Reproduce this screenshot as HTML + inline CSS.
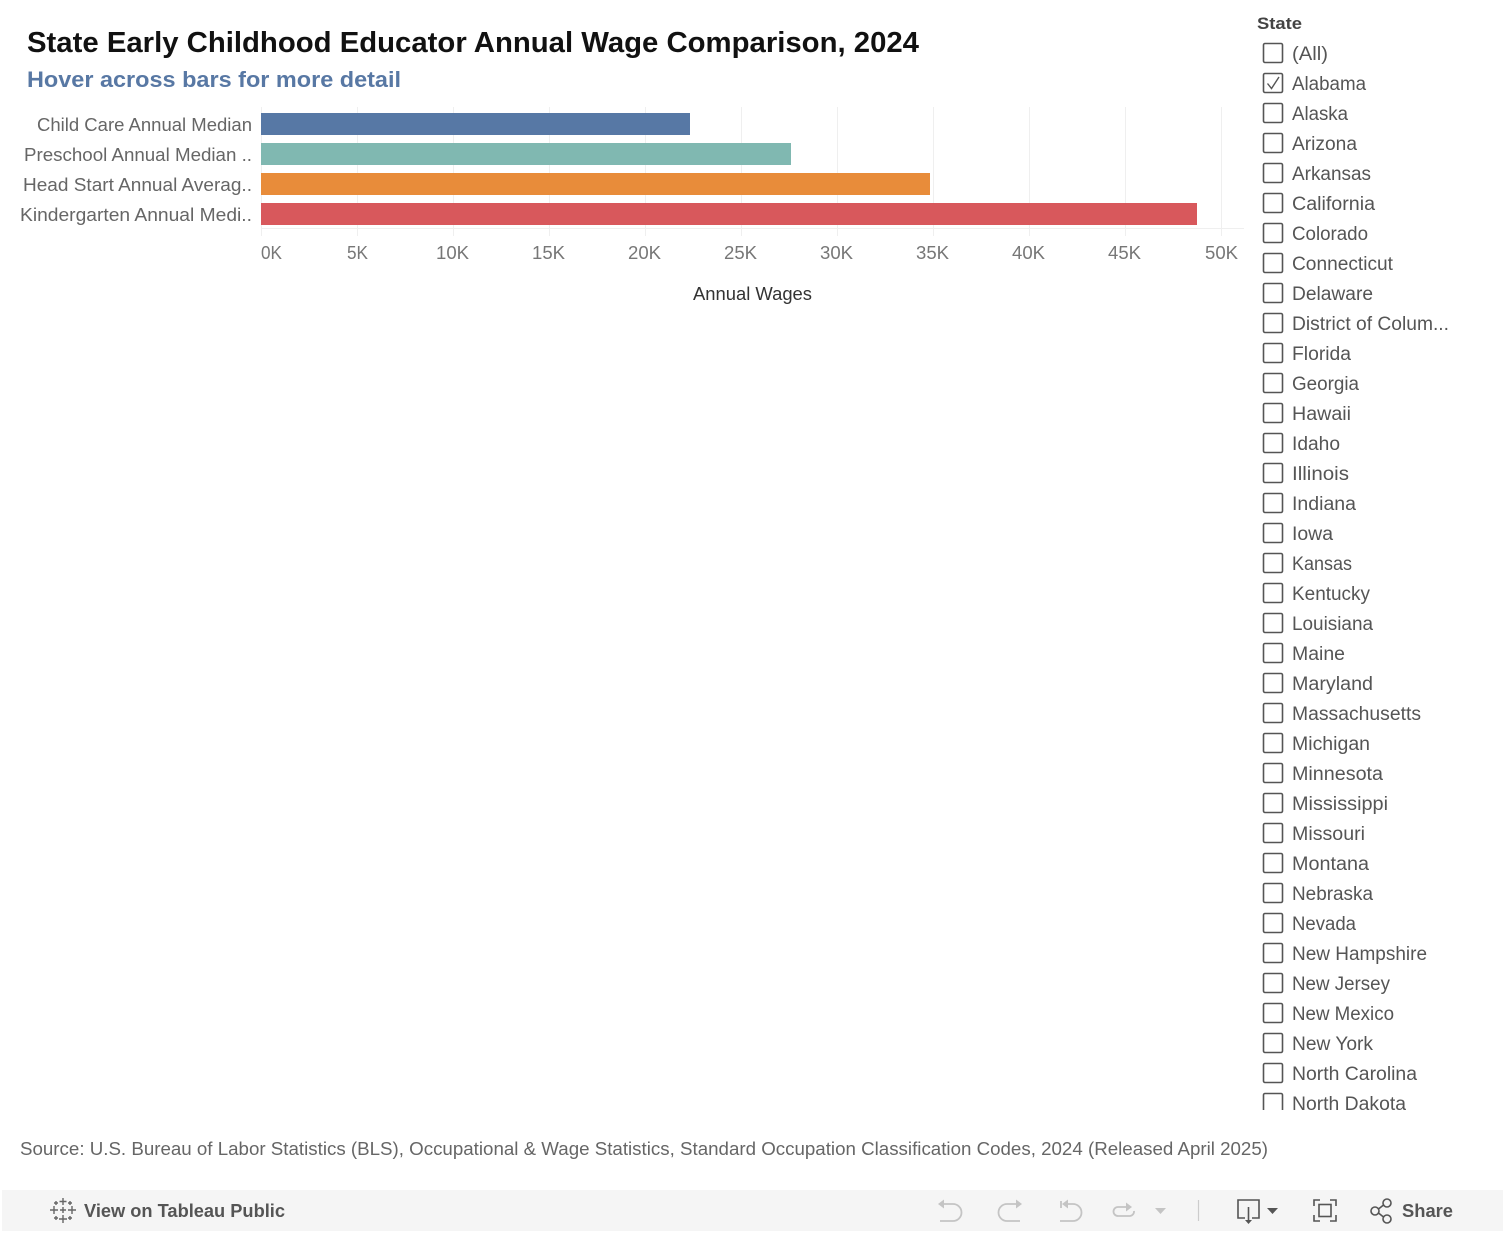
<!DOCTYPE html>
<html><head><meta charset="utf-8"><style>
html,body{margin:0;padding:0;background:#fff;}
svg{display:block;font-family:"Liberation Sans",sans-serif;}
</style></head><body>
<svg width="1505" height="1235" viewBox="0 0 1505 1235" xmlns="http://www.w3.org/2000/svg">
<rect width="1505" height="1235" fill="#fff"/>
<text x="27" y="52" font-size="29" font-weight="bold" fill="#111" textLength="892" lengthAdjust="spacingAndGlyphs">State Early Childhood Educator Annual Wage Comparison, 2024</text>
<text x="27" y="87" font-size="22" font-weight="bold" fill="#5878a4" textLength="374" lengthAdjust="spacingAndGlyphs">Hover across bars for more detail</text>
<g stroke="#efefef" stroke-width="1">
<line x1="261.5" y1="107" x2="261.5" y2="236"/><line x1="357.5" y1="107" x2="357.5" y2="236"/><line x1="453.5" y1="107" x2="453.5" y2="236"/><line x1="549.5" y1="107" x2="549.5" y2="236"/><line x1="645.5" y1="107" x2="645.5" y2="236"/><line x1="741.5" y1="107" x2="741.5" y2="236"/><line x1="837.5" y1="107" x2="837.5" y2="236"/><line x1="933.5" y1="107" x2="933.5" y2="236"/><line x1="1029.5" y1="107" x2="1029.5" y2="236"/><line x1="1125.5" y1="107" x2="1125.5" y2="236"/><line x1="1221.5" y1="107" x2="1221.5" y2="236"/>
<line x1="261" y1="228.5" x2="1244" y2="228.5"/>
</g>
<rect x="261" y="113" width="429" height="22" fill="#5778a5"/>
<rect x="261" y="143" width="530" height="22" fill="#80b8b1"/>
<rect x="261" y="173" width="669" height="22" fill="#e88c3a"/>
<rect x="261" y="203" width="936" height="22" fill="#d8585c"/>
<g font-size="18" fill="#666" text-anchor="end">
<text x="252" y="131" textLength="215" lengthAdjust="spacingAndGlyphs">Child Care Annual Median</text>
<text x="252" y="161" textLength="228" lengthAdjust="spacingAndGlyphs">Preschool Annual Median ..</text>
<text x="252" y="191" textLength="229" lengthAdjust="spacingAndGlyphs">Head Start Annual Averag..</text>
<text x="252" y="221" textLength="232" lengthAdjust="spacingAndGlyphs">Kindergarten Annual Medi..</text>
</g>
<g font-size="18" fill="#777" text-anchor="middle">
<text x="271.5" y="259" textLength="21" lengthAdjust="spacingAndGlyphs">0K</text>
<text x="357.5" y="259" textLength="21" lengthAdjust="spacingAndGlyphs">5K</text>
<text x="452.5" y="259" textLength="33" lengthAdjust="spacingAndGlyphs">10K</text>
<text x="548.5" y="259" textLength="33" lengthAdjust="spacingAndGlyphs">15K</text>
<text x="644.5" y="259" textLength="33" lengthAdjust="spacingAndGlyphs">20K</text>
<text x="740.5" y="259" textLength="33" lengthAdjust="spacingAndGlyphs">25K</text>
<text x="836.5" y="259" textLength="33" lengthAdjust="spacingAndGlyphs">30K</text>
<text x="932.5" y="259" textLength="33" lengthAdjust="spacingAndGlyphs">35K</text>
<text x="1028.5" y="259" textLength="33" lengthAdjust="spacingAndGlyphs">40K</text>
<text x="1124.5" y="259" textLength="33" lengthAdjust="spacingAndGlyphs">45K</text>
<text x="1221.5" y="259" textLength="33" lengthAdjust="spacingAndGlyphs">50K</text>
</g>
<text x="752.5" y="300" font-size="18" fill="#333" text-anchor="middle" textLength="119" lengthAdjust="spacingAndGlyphs">Annual Wages</text>

<text x="1257" y="29" font-size="17" font-weight="bold" fill="#444" textLength="45" lengthAdjust="spacingAndGlyphs">State</text>
<defs><clipPath id="lc"><rect x="1240" y="35" width="265" height="1075"/></clipPath></defs>
<g clip-path="url(#lc)">
<g fill="none" stroke="#555" stroke-width="1.6">
<rect x="1263.5" y="43.5" width="19" height="19" rx="1.5"/><rect x="1263.5" y="73.5" width="19" height="19" rx="1.5"/><rect x="1263.5" y="103.5" width="19" height="19" rx="1.5"/><rect x="1263.5" y="133.5" width="19" height="19" rx="1.5"/><rect x="1263.5" y="163.5" width="19" height="19" rx="1.5"/><rect x="1263.5" y="193.5" width="19" height="19" rx="1.5"/><rect x="1263.5" y="223.5" width="19" height="19" rx="1.5"/><rect x="1263.5" y="253.5" width="19" height="19" rx="1.5"/><rect x="1263.5" y="283.5" width="19" height="19" rx="1.5"/><rect x="1263.5" y="313.5" width="19" height="19" rx="1.5"/><rect x="1263.5" y="343.5" width="19" height="19" rx="1.5"/><rect x="1263.5" y="373.5" width="19" height="19" rx="1.5"/><rect x="1263.5" y="403.5" width="19" height="19" rx="1.5"/><rect x="1263.5" y="433.5" width="19" height="19" rx="1.5"/><rect x="1263.5" y="463.5" width="19" height="19" rx="1.5"/><rect x="1263.5" y="493.5" width="19" height="19" rx="1.5"/><rect x="1263.5" y="523.5" width="19" height="19" rx="1.5"/><rect x="1263.5" y="553.5" width="19" height="19" rx="1.5"/><rect x="1263.5" y="583.5" width="19" height="19" rx="1.5"/><rect x="1263.5" y="613.5" width="19" height="19" rx="1.5"/><rect x="1263.5" y="643.5" width="19" height="19" rx="1.5"/><rect x="1263.5" y="673.5" width="19" height="19" rx="1.5"/><rect x="1263.5" y="703.5" width="19" height="19" rx="1.5"/><rect x="1263.5" y="733.5" width="19" height="19" rx="1.5"/><rect x="1263.5" y="763.5" width="19" height="19" rx="1.5"/><rect x="1263.5" y="793.5" width="19" height="19" rx="1.5"/><rect x="1263.5" y="823.5" width="19" height="19" rx="1.5"/><rect x="1263.5" y="853.5" width="19" height="19" rx="1.5"/><rect x="1263.5" y="883.5" width="19" height="19" rx="1.5"/><rect x="1263.5" y="913.5" width="19" height="19" rx="1.5"/><rect x="1263.5" y="943.5" width="19" height="19" rx="1.5"/><rect x="1263.5" y="973.5" width="19" height="19" rx="1.5"/><rect x="1263.5" y="1003.5" width="19" height="19" rx="1.5"/><rect x="1263.5" y="1033.5" width="19" height="19" rx="1.5"/><rect x="1263.5" y="1063.5" width="19" height="19" rx="1.5"/><rect x="1263.5" y="1093.5" width="19" height="19" rx="1.5"/>
<path d="M1267.5 83.5 L1271.5 88.5 L1279 77" stroke-width="1.4"/>
</g>
<g font-size="19" fill="#555">
<text x="1292" y="60" textLength="36" lengthAdjust="spacingAndGlyphs">(All)</text>
<text x="1292" y="90" textLength="74" lengthAdjust="spacingAndGlyphs">Alabama</text>
<text x="1292" y="120" textLength="56" lengthAdjust="spacingAndGlyphs">Alaska</text>
<text x="1292" y="150" textLength="65" lengthAdjust="spacingAndGlyphs">Arizona</text>
<text x="1292" y="180" textLength="79" lengthAdjust="spacingAndGlyphs">Arkansas</text>
<text x="1292" y="210" textLength="83" lengthAdjust="spacingAndGlyphs">California</text>
<text x="1292" y="240" textLength="76" lengthAdjust="spacingAndGlyphs">Colorado</text>
<text x="1292" y="270" textLength="101" lengthAdjust="spacingAndGlyphs">Connecticut</text>
<text x="1292" y="300" textLength="81" lengthAdjust="spacingAndGlyphs">Delaware</text>
<text x="1292" y="330" textLength="157" lengthAdjust="spacingAndGlyphs">District of Colum...</text>
<text x="1292" y="360" textLength="59" lengthAdjust="spacingAndGlyphs">Florida</text>
<text x="1292" y="390" textLength="67" lengthAdjust="spacingAndGlyphs">Georgia</text>
<text x="1292" y="420" textLength="59" lengthAdjust="spacingAndGlyphs">Hawaii</text>
<text x="1292" y="450" textLength="48" lengthAdjust="spacingAndGlyphs">Idaho</text>
<text x="1292" y="480" textLength="57" lengthAdjust="spacingAndGlyphs">Illinois</text>
<text x="1292" y="510" textLength="64" lengthAdjust="spacingAndGlyphs">Indiana</text>
<text x="1292" y="540" textLength="41" lengthAdjust="spacingAndGlyphs">Iowa</text>
<text x="1292" y="570" textLength="60" lengthAdjust="spacingAndGlyphs">Kansas</text>
<text x="1292" y="600" textLength="78" lengthAdjust="spacingAndGlyphs">Kentucky</text>
<text x="1292" y="630" textLength="81" lengthAdjust="spacingAndGlyphs">Louisiana</text>
<text x="1292" y="660" textLength="53" lengthAdjust="spacingAndGlyphs">Maine</text>
<text x="1292" y="690" textLength="81" lengthAdjust="spacingAndGlyphs">Maryland</text>
<text x="1292" y="720" textLength="129" lengthAdjust="spacingAndGlyphs">Massachusetts</text>
<text x="1292" y="750" textLength="78" lengthAdjust="spacingAndGlyphs">Michigan</text>
<text x="1292" y="780" textLength="91" lengthAdjust="spacingAndGlyphs">Minnesota</text>
<text x="1292" y="810" textLength="96" lengthAdjust="spacingAndGlyphs">Mississippi</text>
<text x="1292" y="840" textLength="73" lengthAdjust="spacingAndGlyphs">Missouri</text>
<text x="1292" y="870" textLength="77" lengthAdjust="spacingAndGlyphs">Montana</text>
<text x="1292" y="900" textLength="81" lengthAdjust="spacingAndGlyphs">Nebraska</text>
<text x="1292" y="930" textLength="64" lengthAdjust="spacingAndGlyphs">Nevada</text>
<text x="1292" y="960" textLength="135" lengthAdjust="spacingAndGlyphs">New Hampshire</text>
<text x="1292" y="990" textLength="98" lengthAdjust="spacingAndGlyphs">New Jersey</text>
<text x="1292" y="1020" textLength="102" lengthAdjust="spacingAndGlyphs">New Mexico</text>
<text x="1292" y="1050" textLength="81" lengthAdjust="spacingAndGlyphs">New York</text>
<text x="1292" y="1080" textLength="125" lengthAdjust="spacingAndGlyphs">North Carolina</text>
<text x="1292" y="1110" textLength="114" lengthAdjust="spacingAndGlyphs">North Dakota</text>
</g>
</g>

<text x="20" y="1155" font-size="18" fill="#666" textLength="1248" lengthAdjust="spacingAndGlyphs">Source: U.S. Bureau of Labor Statistics (BLS), Occupational &amp; Wage Statistics, Standard Occupation Classification Codes, 2024 (Released April 2025)</text>

<rect x="2" y="1190" width="1501" height="41" fill="#f5f5f5"/>
<g stroke="#666" stroke-width="1.4" fill="none">
<path d="M63 1198 v7 M59.5 1201.5 h7"/><path d="M63 1215 v8 M59 1219 h8"/>
<path d="M54 1206 v8 M50 1210 h8"/><path d="M72 1206 v8 M68 1210 h8"/>
<path d="M63 1207 v6 M60 1210 h6"/>
<path d="M56 1201 v4 M54 1203 h4"/><path d="M70 1201 v4 M68 1203 h4"/>
<path d="M56 1216 v4 M54 1218 h4"/><path d="M70 1216 v4 M68 1218 h4"/>
</g>
<text x="84" y="1217" font-size="18" font-weight="bold" fill="#555" textLength="201" lengthAdjust="spacingAndGlyphs">View on Tableau Public</text>

<g stroke="#c4c4c4" stroke-width="1.8" fill="none">
<path d="M941 1204 H953 A8.5 8.5 0 0 1 953 1221 H940"/>
<path d="M1019 1204 H1007 A8.5 8.5 0 0 0 1007 1221 H1020"/>
<path d="M1061 1201 v7 M1064 1204 H1073 A8.5 8.5 0 0 1 1073 1221 H1060"/>
<path d="M1128 1207 H1118 A4.5 4.5 0 0 0 1118 1216 H1130 A4.5 4.5 0 0 0 1134 1211"/>
<path d="M1198.5 1200 v21" stroke="#ccc" stroke-width="1.2"/>
</g>
<g fill="#c4c4c4">
<path d="M938 1204 l6 -4.5 v9 z"/>
<path d="M1022 1204 l-6 -4.5 v9 z"/>
<path d="M1062 1204 l6 -4.5 v9 z"/>
<path d="M1132 1207 l-6 -4.5 v9 z"/>
<path d="M1155 1208 h11 l-5.5 6 z"/>
</g>
<g stroke="#555" stroke-width="1.6" fill="none">
<path d="M1245 1218 H1238 V1200 H1259 V1218 H1252"/>
<path d="M1248.5 1207 V1222"/>
<path d="M1314 1206 V1200 H1320 M1330 1200 H1336 V1206 M1336 1215 V1221 H1330 M1320 1221 H1314 V1215"/>
<rect x="1319" y="1204.5" width="12" height="12"/>
<circle cx="1375" cy="1211" r="4"/><circle cx="1387" cy="1203" r="4"/><circle cx="1387" cy="1219" r="4"/>
<path d="M1378.5 1209 L1383.5 1205 M1378.5 1213 L1383.5 1217"/>
</g>
<g fill="#555">
<path d="M1245 1220 h7 l-3.5 4 z"/>
<path d="M1267 1208 h11 l-5.5 6 z"/>
</g>
<text x="1402" y="1217" font-size="18" font-weight="bold" fill="#555" textLength="51" lengthAdjust="spacingAndGlyphs">Share</text>
</svg>
</body></html>
